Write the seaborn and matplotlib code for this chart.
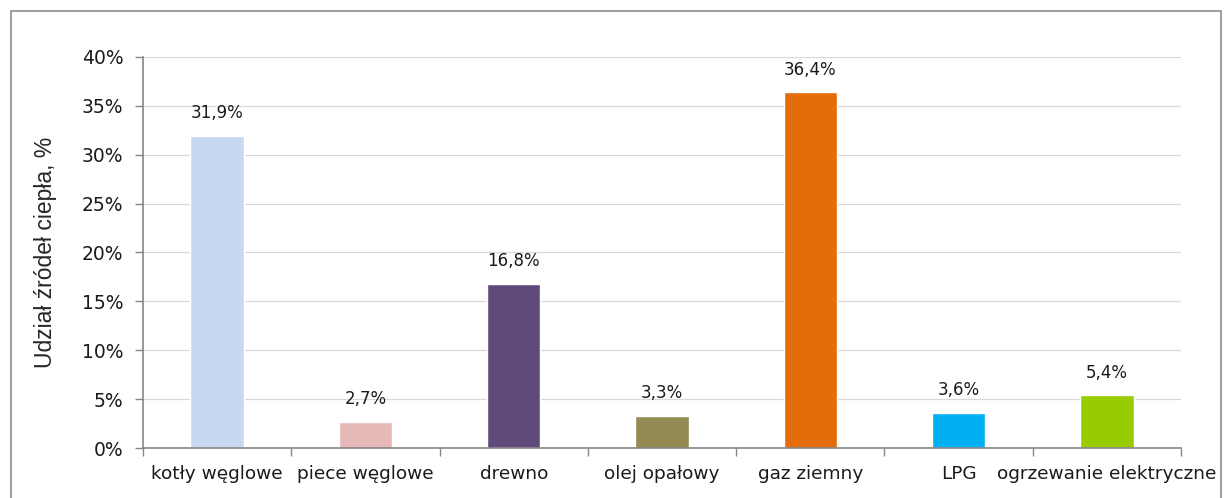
import numpy as np
import pandas as pd
import matplotlib.pyplot as plt
import seaborn as sns
from matplotlib.patches import Rectangle
from matplotlib.ticker import FuncFormatter, FixedLocator

# ========== DATA ========== #

CATEGORIES = ["kotły węglowe", "piece węglowe", "drewno", "olej opałowy",
              "gaz ziemny", "LPG", "ogrzewanie elektryczne"]
SHARES = [31.9, 2.7, 16.8, 3.3, 36.4, 3.6, 5.4]
COLORS = ["#C6D9F1", "#E6B9B8", "#604A7B", "#948A54",
          "#E46C0A", "#00B0F0", "#99CC00"]
Y_LABEL = "Udział źródeł ciepła, %"

# ========== PLOT ========== #

sns.set_style("white")
plt.rcParams["font.family"] = ["DejaVu Sans"]

df = pd.DataFrame({"kat": CATEGORIES, "udzial": SHARES})

fig = plt.figure(figsize=(12.32, 4.98), dpi=100)
ax = fig.add_axes([143 / 1232, 1 - 448 / 498, (1181 - 143) / 1232, (448 - 57) / 498])

sns.barplot(data=df, x="kat", y="udzial", hue="kat", palette=COLORS,
            width=0.36, legend=False, saturation=1, ax=ax)

# data labels
for i, v in enumerate(SHARES):
    ax.text(i, v + 1.4, f"{v:.1f}%".replace(".", ","), ha="center", va="bottom",
            fontsize=12, color="#1a1a1a")

ax.set_ylim(0, 40)
ax.set_xlim(-0.5, len(CATEGORIES) - 0.5)
ax.set_yticks(np.arange(0, 41, 5))
ax.yaxis.set_major_formatter(FuncFormatter(lambda v, _: f"{v:.0f}%"))
ax.yaxis.grid(True, color="#D9D9D9", linewidth=0.9)
ax.set_axisbelow(True)

ax.set_xlabel("")
ax.set_ylabel(Y_LABEL, fontsize=16.5, family="Liberation Sans", labelpad=18)

# category labels centred, tick marks at the boundaries
ax.tick_params(axis="x", which="major", length=0, labelsize=13.3, pad=12, colors="#1a1a1a")
ax.xaxis.set_minor_locator(FixedLocator(np.arange(-0.5, len(CATEGORIES), 1)))
ax.tick_params(axis="x", which="minor", length=6, color="#868686", width=1, bottom=True)
ax.tick_params(axis="y", length=6, color="#868686", width=1, left=True,
               labelsize=13.5, pad=8)
for lbl in ax.get_yticklabels():
    lbl.set_color("#1a1a1a")

for side in ["top", "right"]:
    ax.spines[side].set_visible(False)
for side in ["left", "bottom"]:
    ax.spines[side].set_color("#868686")
    ax.spines[side].set_linewidth(1.2)

# outer frame of the chart area
fig.patches.append(Rectangle((11 / 1232, -0.1), (1221 - 11) / 1232, 1 - 11 / 498 + 0.1,
                             transform=fig.transFigure, fill=False,
                             edgecolor="#8C8C8C", linewidth=1.2))

fig.savefig("out.png", dpi=100)
